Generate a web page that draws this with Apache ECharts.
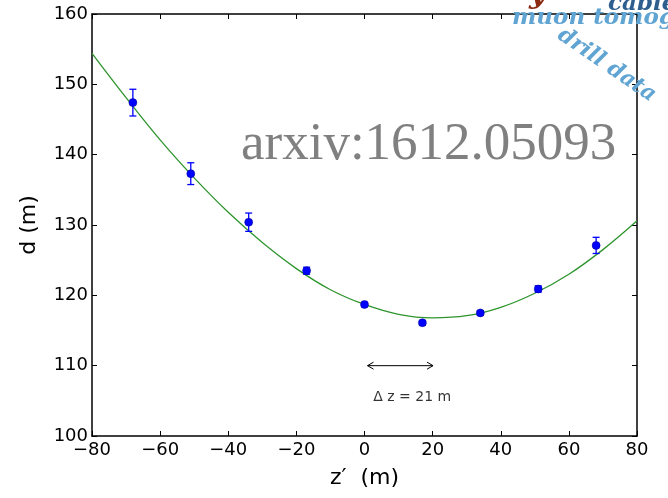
<!DOCTYPE html>
<html>
<head>
<meta charset="utf-8">
<style>
  html, body { margin: 0; padding: 0; background: #fff; }
  #chart { width: 668px; height: 498px; }
</style>
<script src="https://cdn.jsdelivr.net/npm/echarts@6/dist/echarts.min.js"></script>
</head>
<body>
<div id="chart"></div>
<script>
// Measured depth d versus position z'
const zPos   = [-68, -51, -34, -17, 0, 17, 34, 51, 68];
const depth  = [147.4, 137.3, 130.4, 123.5, 118.7, 116.1, 117.5, 120.9, 127.1];
const depthErr = [1.9, 1.55, 1.3, 0.5, 0.3, 0.3, 0.3, 0.45, 1.15];

// Fitted curve, sampled along z'
const fitZ = [-80, -70, -60, -50, -40, -30, -20, -10, 0, 10, 20, 30, 40, 50, 60, 70, 80];
const fitD = [154.4, 148.1, 142.1, 136.7, 131.8, 127.5, 123.8, 120.8, 118.7, 117.3, 116.8, 117.1, 118.3, 120.3, 123.0, 126.5, 130.6];

// Offset annotation
const dzStart = 0, dzEnd = 21, dzLevel = 110;
const dzText = 'Δ z = 21 m';
const dzTextPos = [14, 105.5];

const xTicks = { min: -80, max: 80, interval: 20 };
const yTicks = { min: 100, max: 160, interval: 10 };

const minus = v => String(v).replace('-', '\u2212');
const FONT = 'DejaVu Sans';

const chart = echarts.init(document.getElementById('chart'), null, { renderer: 'canvas' });

const axisLine = { show: true, onZero: false, lineStyle: { color: '#000', width: 1.5 } };
const axisTick = { show: true, inside: true, length: 5, lineStyle: { color: '#000', width: 1 } };

chart.setOption({
  animation: false,
  backgroundColor: '#fff',
  grid: { left: 92, right: 31, top: 14, bottom: 62, containLabel: false },
  xAxis: [
    {
      type: 'value', position: 'bottom', ...xTicks,
      axisLine, axisTick,
      splitLine: { show: false },
      axisLabel: { color: '#000', fontSize: 18, fontFamily: FONT, margin: 5, formatter: minus },
      name: 'z\u2032  (m)', nameLocation: 'middle', nameGap: 31,
      nameTextStyle: { color: '#000', fontSize: 22, fontFamily: FONT }
    },
    {
      type: 'value', position: 'top', ...xTicks,
      axisLine, axisTick,
      splitLine: { show: false }, axisLabel: { show: false }
    }
  ],
  yAxis: [
    {
      type: 'value', position: 'left', ...yTicks,
      axisLine, axisTick,
      splitLine: { show: false },
      axisLabel: { color: '#000', fontSize: 18, fontFamily: FONT, margin: 4 },
      name: 'd (m)', nameLocation: 'middle', nameGap: 52, nameRotate: 90,
      nameTextStyle: { color: '#000', fontSize: 22, fontFamily: FONT }
    },
    {
      type: 'value', position: 'right', ...yTicks,
      axisLine, axisTick,
      splitLine: { show: false }, axisLabel: { show: false }
    }
  ],
  graphic: [
    {
      type: 'text', left: 241, top: 119, z: 1,
      style: { text: 'arxiv:1612.05093', fill: '#808080', font: '53px "Liberation Serif"' }
    },
    {
      type: 'text', x: 529, y: -20, z: 10,
      style: { text: 'y', fill: '#8b2a10', font: 'italic bold 30px "DejaVu Serif"', textVerticalAlign: 'top' }
    },
    {
      type: 'text', x: 608, y: -7, z: 10,
      style: { text: 'cable', fill: '#2d5e8e', font: 'italic bold 23px "DejaVu Serif"', textVerticalAlign: 'top' }
    },
    {
      type: 'text', x: 512, y: 7, z: 10,
      style: { text: 'muon tomography', fill: '#5fa4d2', font: 'italic bold 23px "DejaVu Serif"', textVerticalAlign: 'top' }
    },
    {
      type: 'text', x: 566, y: 24, rotation: -0.6, z: 10,
      style: { text: 'drill data', fill: '#5fa4d2', font: 'italic bold 22px "DejaVu Serif"', textVerticalAlign: 'top' }
    }
  ],
  series: [
    {
      name: 'fit', type: 'line', smooth: 0.4, showSymbol: false, symbol: 'none',
      data: fitZ.map((z, i) => [z, fitD[i]]),
      lineStyle: { color: '#2e952e', width: 1.3 },
      z: 3, silent: true
    },
    {
      name: 'errors', type: 'custom', z: 4, silent: true,
      data: zPos.map((z, i) => [z, depth[i], depthErr[i]]),
      renderItem(params, api) {
        const x = api.value(0), y = api.value(1), e = api.value(2);
        const top = api.coord([x, y + e]);
        const bot = api.coord([x, y - e]);
        const cap = 3.5;
        const st = { stroke: '#0000ff', lineWidth: 1.3 };
        return {
          type: 'group',
          children: [
            { type: 'line', shape: { x1: top[0], y1: top[1], x2: bot[0], y2: bot[1] }, style: st },
            { type: 'line', shape: { x1: top[0] - cap, y1: top[1], x2: top[0] + cap, y2: top[1] }, style: st },
            { type: 'line', shape: { x1: bot[0] - cap, y1: bot[1], x2: bot[0] + cap, y2: bot[1] }, style: st }
          ]
        };
      }
    },
    {
      name: 'data', type: 'scatter', z: 5, silent: true,
      symbol: 'circle', symbolSize: 8,
      data: zPos.map((z, i) => [z, depth[i]]),
      itemStyle: { color: '#0000ff', borderColor: '#00008b', borderWidth: 0.5, opacity: 1 }
    },
    {
      // double-headed arrow spanning the offset, tips pulled in slightly
      name: 'offsetArrow', type: 'custom', z: 6, silent: true,
      data: [[dzStart, dzEnd, dzLevel]],
      renderItem(params, api) {
        const a = api.coord([api.value(0), api.value(2)]);
        const b = api.coord([api.value(1), api.value(2)]);
        const shrink = 3, head = 6, half = 3.5;
        const x1 = a[0] + shrink, x2 = b[0] - shrink, y = a[1];
        const st = { stroke: '#000', lineWidth: 1, fill: null };
        return {
          type: 'group',
          children: [
            { type: 'line', shape: { x1, y1: y, x2, y2: y }, style: st },
            { type: 'polyline', shape: { points: [[x1 + head, y - half], [x1, y], [x1 + head, y + half]] }, style: st },
            { type: 'polyline', shape: { points: [[x2 - head, y - half], [x2, y], [x2 - head, y + half]] }, style: st }
          ]
        };
      }
    },
    {
      name: 'offsetLabel', type: 'scatter', z: 6, silent: true,
      symbolSize: 0,
      data: [dzTextPos],
      label: {
        show: true, position: 'inside', formatter: dzText,
        color: '#000', fontSize: 14, fontFamily: FONT
      }
    }
  ]
});
</script>
</body>
</html>
